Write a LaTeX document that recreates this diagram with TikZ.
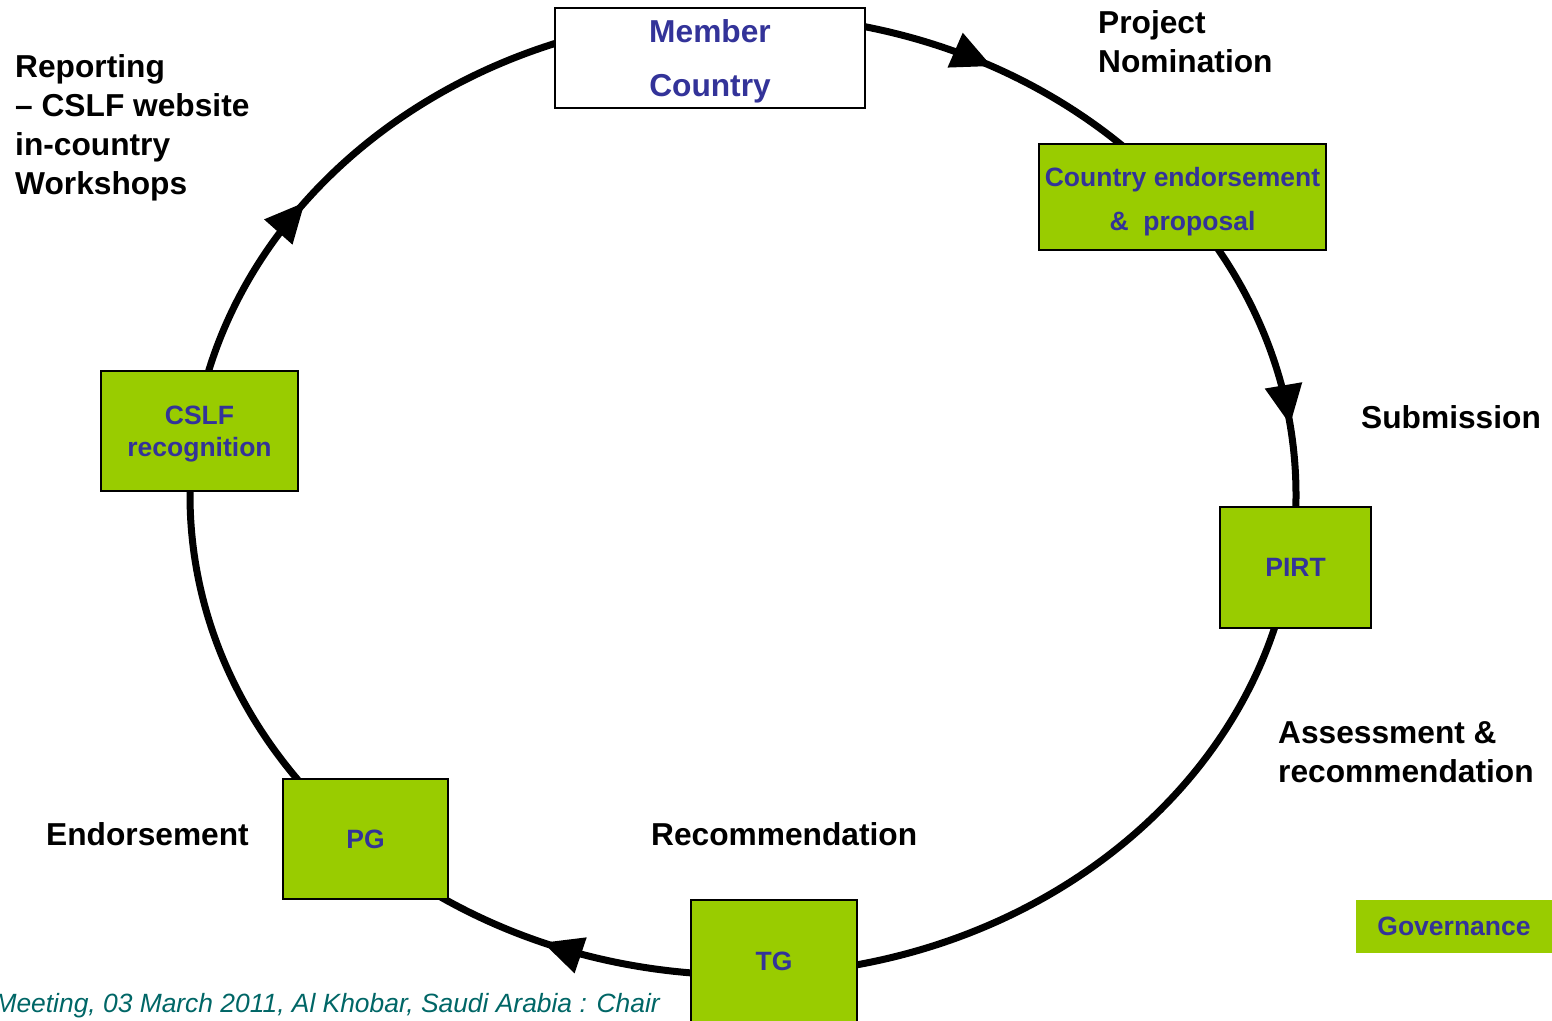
\documentclass[tikz,border=0pt]{standalone}
\usepackage{fontspec}
\setmainfont{Liberation Sans}
\usetikzlibrary{arrows.meta,decorations.markings}
\definecolor{boxgreen}{RGB}{153,204,0}
\definecolor{boxblue}{RGB}{51,51,153}
\definecolor{footteal}{RGB}{0,102,102}
\begin{document}
\begin{tikzpicture}[x=1pt, y=-1pt,
    box/.style={draw, line width=2pt, fill=boxgreen, text=boxblue, align=center, inner sep=0pt,
      font=\bfseries\fontsize{26.5}{32}\selectfont},
    lbl/.style={font=\bfseries\fontsize{31.7}{39}\selectfont, align=left, inner sep=0pt},
    ringarrow/.style={decoration={markings,
      mark=at position 0.3127 with {\arrow{Triangle[length=40pt,width=36pt]}},
      mark=at position 0.5990 with {\arrow{Triangle[length=40pt,width=36pt]}},
      mark=at position 0.8287 with {\arrow{Triangle[length=40pt,width=36pt]}},
      mark=at position 0.9783 with {\arrow{Triangle[length=40pt,width=36pt]}}},
      postaction={decorate}},
    ring/.style={line width=7pt, ringarrow}]
    \useasboundingbox (0,0) rectangle (1552,1020);
    \coordinate (hub) at (743,495);
    \draw [ring] (hub) ellipse [x radius=553, y radius=480];
    \node[box, fill=white, minimum width=310pt, minimum height=100pt,
      font=\bfseries\fontsize{31.7}{54}\selectfont] (mc) at (710,58) {\rule{0pt}{30pt}Member\\Country};
    \node[box, minimum width=287pt, minimum height=106pt,
      font=\bfseries\fontsize{26.5}{44}\selectfont] (ce) at (1182.5,197) {\rule{0pt}{29pt}Country endorsement\\\&\ \ proposal};
    \node[box, minimum width=151pt, minimum height=121pt] (pirt) at (1295.5,567.5) {PIRT};
    \node[box, minimum width=166pt, minimum height=122pt] (tg) at (774,961) {TG};
    \node[box, minimum width=165pt, minimum height=120pt] (pg) at (365.5,839) {PG};
    \node[box, minimum width=197pt, minimum height=120pt] (cslf) at (199.5,431) {\rule{0pt}{25pt}CSLF\\recognition};
    \node[box, draw=none, minimum width=196pt, minimum height=53pt] (gov) at (1454,926.5) {Governance};
    \node[lbl, anchor=north west] (rep) at (15,54) {Reporting\\-- CSLF website\\in-country\\Workshops};
    \node[lbl, anchor=north west] (nom) at (1098,10) {Project\\Nomination};
    \node[lbl, anchor=base west] (sub) at (1361,428) {Submission};
    \node[lbl, anchor=north west] (ass) at (1278,721) {Assessment \&\\recommendation};
    \node[lbl, anchor=base west] (rec) at (651,845) {Recommendation};
    \node[lbl, anchor=base west] (end) at (46,845) {Endorsement};
    \node[anchor=base east, inner sep=0pt, text=footteal,
      font=\itshape\fontsize{26.4}{30}\selectfont] (foot) at (660,1012) {Meeting, 03 March 2011, Al Khobar, Saudi Arabia : Chair};
\end{tikzpicture}
\end{document}
